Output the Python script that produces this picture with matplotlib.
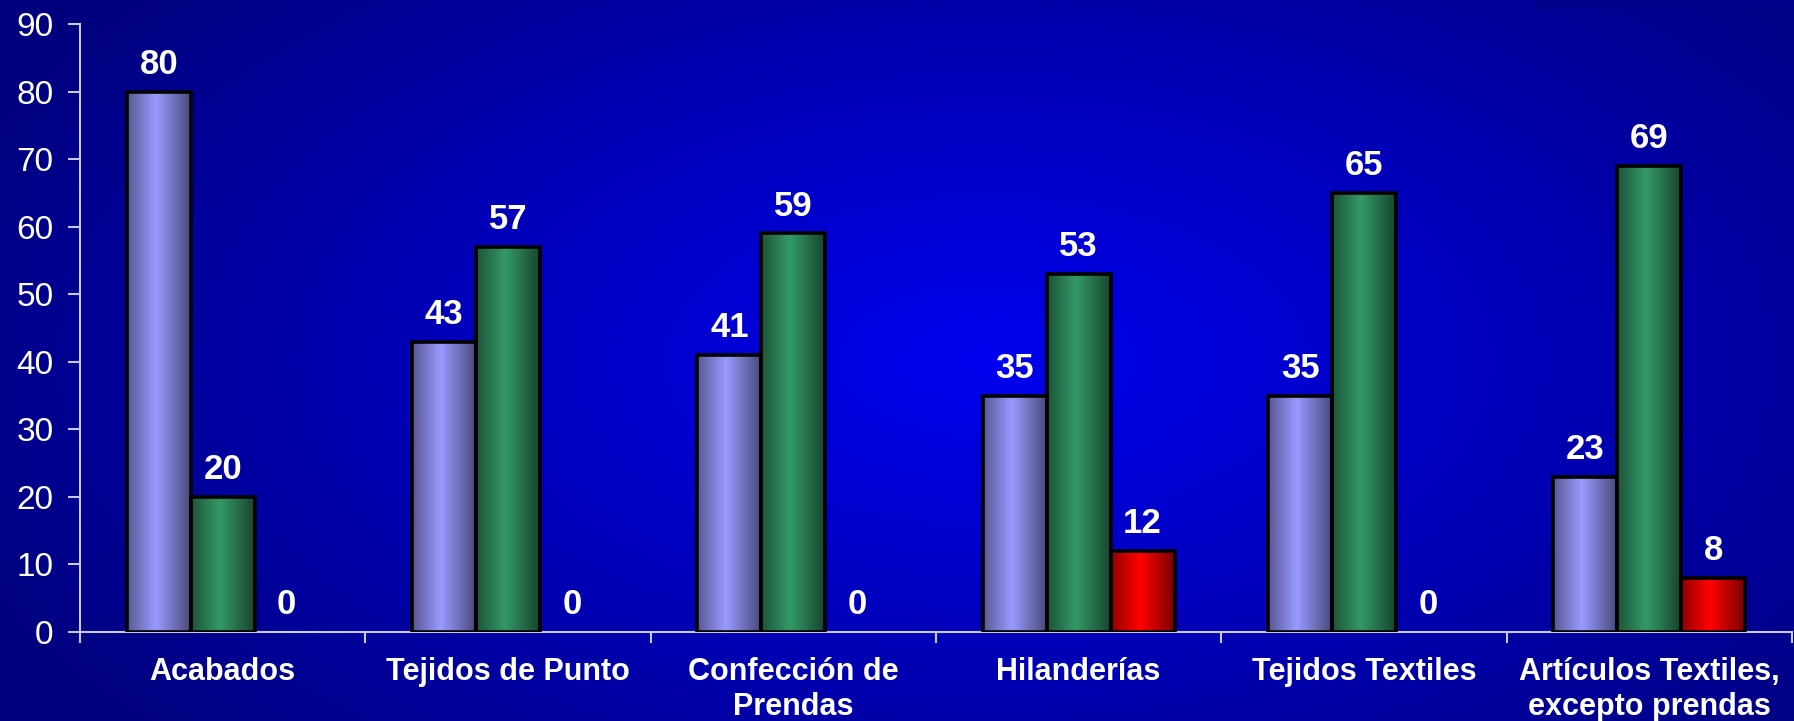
import numpy as np
import matplotlib.pyplot as plt
from matplotlib.colors import LinearSegmentedColormap

categorias = ["Acabados", "Tejidos de Punto", "Confección de\nPrendas",
              "Hilanderías", "Tejidos Textiles", "Artículos Textiles,\nexcepto prendas"]
serie_1 = [80, 43, 41, 35, 35, 23]
serie_2 = [20, 57, 59, 53, 65, 69]
serie_3 = [0, 0, 0, 12, 0, 8]
y_ticks = [0, 10, 20, 30, 40, 50, 60, 70, 80, 90]

# colores de barra: borde oscuro, centro claro
colores = [
    ("#4a4a7c", "#9999ff"),
    ("#18452f", "#339966"),
    ("#7a0000", "#ff0000"),
]

plt.rcParams['font.family'] = ['Liberation Sans', 'DejaVu Sans']

fig = plt.figure(figsize=(17.94, 7.21), dpi=100)

# fondo con degradado radial
bg = fig.add_axes([0, 0, 1, 1])
yy, xx = np.mgrid[0:1:300j, 0:1:700j]
r = np.sqrt(((xx - 0.55) / 0.62) ** 2 + ((yy - 0.5) / 0.8) ** 2)
r = np.clip(r, 0, 1)
bg_cmap = LinearSegmentedColormap.from_list("bg", ["#0000ee", "#0000b8", "#00007e"])
bg.imshow(r, cmap=bg_cmap, extent=[0, 1, 0, 1], aspect="auto", origin="lower")
bg.add_patch(plt.Rectangle((1535 / 1794, 1 - 9 / 721), 1, 9 / 721, color="#000088", lw=0))
bg.set_xlim(0, 1)
bg.set_ylim(0, 1)
bg.axis("off")

ax = fig.add_axes([80 / 1794, (721 - 632) / 721, (1792 - 80) / 1794, (632 - 24) / 721])
ax.patch.set_alpha(0)

x = np.arange(len(categorias))
w = 0.224
series = [serie_1, serie_2, serie_3]
grad = np.abs(np.linspace(-1, 1, 64) + 0.1)
grad = (grad / grad.max()).reshape(1, -1)

for i, vals in enumerate(series):
    bars = ax.bar(x + (i - 1) * w, vals, w, facecolor="none", edgecolor="black",
                  linewidth=2.6, zorder=3)
    cmap = LinearSegmentedColormap.from_list("c%d" % i, [colores[i][1], colores[i][0]])
    for b, v in zip(bars, vals):
        if v > 0:
            ax.imshow(grad, cmap=cmap, aspect="auto", zorder=2,
                      extent=[b.get_x(), b.get_x() + b.get_width(), 0, b.get_height()])
        else:
            b.set_visible(False)
        ax.text(b.get_x() + b.get_width() / 2, v + 2.6, str(v), ha="center", va="baseline",
                color="white", fontsize=25, fontweight="bold", zorder=4)

ax.set_xlim(-0.5, len(categorias) - 0.5)
ax.set_ylim(0, 90)
ax.set_yticks(y_ticks)
ax.set_xticks(np.arange(len(categorias) + 1) - 0.5)
ax.set_xticklabels([])
ax.set_xticks(x, minor=True)
ax.set_xticklabels(categorias, minor=True, fontsize=22, fontweight="bold", color="white",
                   linespacing=1.2)
ax.tick_params(axis="x", which="minor", length=0, pad=18)
ax.tick_params(axis="x", which="major", length=8, width=1.5, color="#c8c8e0")
ax.tick_params(axis="y", length=9, width=1.5, color="#c8c8e0", labelsize=24,
               labelcolor="white", pad=10)
for s in ["top", "right"]:
    ax.spines[s].set_visible(False)
for s in ["left", "bottom"]:
    ax.spines[s].set_color("#c8c8e0")
    ax.spines[s].set_linewidth(1.5)

fig.savefig("out.png", dpi=100)
